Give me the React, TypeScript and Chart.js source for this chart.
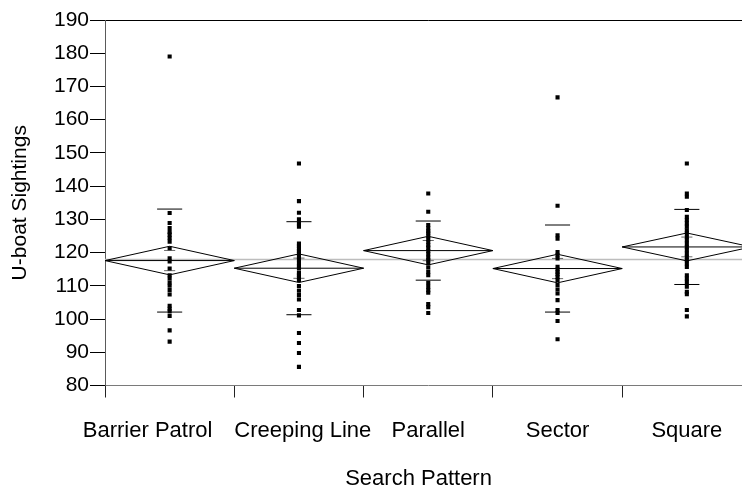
import React, { useEffect, useRef } from 'react';
import { Chart, registerables } from 'chart.js';

Chart.register(...registerables);

// ---------- data ----------
const categories = ['Barrier Patrol', 'Creeping Line', 'Parallel', 'Sector', 'Square'];

const barrierPatrol = [179, 131.9, 128.9, 127.4, 126.2, 125.4, 124.4, 123.3, 121.3, 118.3, 117.3, 115.2, 113.2, 112.2, 111.0, 110.0, 108.7, 107.4, 104.0, 103.1, 102.3, 100.9, 96.6, 93.2];
const creepingLine = [146.8, 135.5, 132.0, 130.0, 128.8, 127.8, 122.7, 121.9, 121.2, 120.5, 119.7, 118.7, 117.7, 116.7, 115.9, 115.2, 113.9, 113.2, 112.5, 111.7, 109.9, 108.5, 107.2, 105.9, 102.7, 101.1, 95.8, 92.8, 89.8, 85.6];
const parallel = [137.8, 132.3, 128.3, 127.3, 126.4, 125.8, 124.9, 124.0, 123.2, 122.2, 121.5, 120.5, 119.5, 118.5, 117.7, 116.7, 115.5, 114.2, 113.2, 110.9, 109.7, 108.7, 107.9, 104.5, 103.6, 101.8];
const sector = [166.7, 134.1, 125.2, 124.2, 120.2, 119.2, 118.2, 115.7, 114.9, 114.2, 113.5, 112.7, 111.7, 110.2, 108.9, 107.7, 105.7, 102.7, 101.8, 99.4, 93.9];
const square = [146.8, 137.8, 136.8, 132.8, 130.8, 129.8, 128.8, 127.8, 126.7, 125.8, 124.7, 123.7, 122.7, 121.7, 120.7, 119.7, 118.7, 117.7, 116.7, 115.7, 113.2, 112.2, 111.2, 109.7, 108.2, 107.5, 102.7, 100.8];
const seriesValues = [barrierPatrol, creepingLine, parallel, sector, square];

const means = [117.6, 115.3, 120.6, 115.2, 121.7];
const ciHalfWidths = [4.3, 4.3, 4.3, 4.3, 4.2];
const stdDevs = [15.5, 14.0, 8.9, 13.1, 11.3];
const grandMean = 117.9;

const yTickValues = [80, 90, 100, 110, 120, 130, 140, 150, 160, 170, 180, 190];
const xTitle = 'Search Pattern';
const yTitle = 'U-boat Sightings';

// ---------- styling constants ----------
const FONT = '"Liberation Sans", Arial, Helvetica, sans-serif';
const SD_HALF = 0.097;
const OVERLAP_HALF = 0.043;

type P = { x: number; y: number | null };

function buildDiamonds(): P[] {
  const out: P[] = [];
  means.forEach((m, i) => {
    const c = ciHalfWidths[i];
    out.push({ x: i, y: m }, { x: i + 0.5, y: m + c }, { x: i + 1, y: m }, { x: i + 0.5, y: m - c }, { x: i, y: m }, { x: i + 1, y: null });
  });
  return out;
}
function buildMeanLines(): P[] {
  const out: P[] = [];
  means.forEach((m, i) => {
    out.push({ x: i, y: m }, { x: i + 1, y: m }, { x: i + 1, y: null });
  });
  return out;
}
function buildSegments(vals: (i: number) => number[], half: number): P[] {
  const out: P[] = [];
  means.forEach((_, i) => {
    vals(i).forEach((v) => {
      out.push({ x: i + 0.5 - half, y: v }, { x: i + 0.5 + half, y: v }, { x: i + 0.5 + half, y: null });
    });
  });
  return out;
}
function buildPoints(): P[] {
  const out: P[] = [];
  seriesValues.forEach((arr, i) => arr.forEach((v) => out.push({ x: i + 0.5, y: v })));
  return out;
}

const xLabelPlugin = {
  id: 'xCategoryLabels',
  afterDraw(chart: any) {
    const { ctx, chartArea } = chart;
    const xs = chart.scales.x;
    ctx.save();
    ctx.font = `22px ${FONT}`;
    ctx.fillStyle = '#000';
    ctx.textBaseline = 'middle';
    ctx.textAlign = 'left';
    const items = categories.map((c, i) => {
      const w = ctx.measureText(c).width;
      return { c, w, cx: xs.getPixelForValue(i + 0.5) };
    });
    const gap = 22;
    for (let i = items.length - 2; i >= 0; i--) {
      const a = items[i];
      const b = items[i + 1];
      const overlap = a.cx + a.w / 2 + gap - (b.cx - b.w / 2);
      if (overlap > 0) {
        b.cx += overlap * 0.15;
        a.cx -= overlap * 0.85;
      }
    }
    const y = chartArea.bottom + 45;
    items.forEach((it) => ctx.fillText(it.c, it.cx - it.w / 2, y));

    // axis title
    ctx.font = `22px ${FONT}`;
    ctx.textAlign = 'center';
    const tx = chartArea.left + (chartArea.right - chartArea.left) * 0.485;
    ctx.fillText(xTitle, tx, chartArea.bottom + 93);
    ctx.restore();
  },
};

export default function App() {
  const ref = useRef<HTMLCanvasElement | null>(null);

  useEffect(() => {
    if (!ref.current) return;
    const chart = new Chart(ref.current, {
      type: 'scatter',
      data: {
        datasets: [
          {
            label: 'points',
            data: buildPoints(),
            pointStyle: 'rect',
            pointRadius: 2.9,
            pointBorderWidth: 0,
            backgroundColor: '#000',
            borderColor: '#000',
            showLine: false,
          } as any,
          {
            label: 'sd',
            data: buildSegments((i) => [means[i] + stdDevs[i], means[i] - stdDevs[i]], SD_HALF),
            showLine: true,
            spanGaps: false,
            borderColor: '#000',
            borderWidth: 1,
            pointRadius: 0,
          },
          {
            label: 'overlap',
            data: buildSegments((i) => [means[i] + ciHalfWidths[i] / Math.SQRT2, means[i] - ciHalfWidths[i] / Math.SQRT2], OVERLAP_HALF),
            showLine: true,
            spanGaps: false,
            borderColor: '#6a6a6a',
            borderWidth: 1,
            pointRadius: 0,
          },
          {
            label: 'mean',
            data: buildMeanLines(),
            showLine: true,
            spanGaps: false,
            borderColor: '#000',
            borderWidth: 1,
            pointRadius: 0,
          },
          {
            label: 'diamond',
            data: buildDiamonds(),
            showLine: true,
            spanGaps: false,
            borderColor: '#000',
            borderWidth: 1,
            pointRadius: 0,
          },
          {
            label: 'grand mean',
            data: [{ x: 0, y: grandMean }, { x: categories.length, y: grandMean }],
            showLine: true,
            borderColor: '#bdbdbd',
            borderWidth: 1.5,
            pointRadius: 0,
          },
        ],
      },
      options: {
        animation: false,
        responsive: true,
        maintainAspectRatio: false,
        layout: { padding: { left: 0, top: 20, right: 8.5, bottom: 0 } },
        plugins: { legend: { display: false }, tooltip: { enabled: false } },
        scales: {
          x: {
            type: 'linear',
            min: 0,
            max: categories.length,
            afterBuildTicks: (scale: any) => {
              scale.ticks = categories.map((_, i) => ({ value: i })).concat([{ value: categories.length }]);
            },
            afterFit: (scale: any) => {
              scale.height = 105.5;
            },
            ticks: { display: false },
            grid: { drawOnChartArea: false, drawTicks: true, tickLength: 12, color: '#222', lineWidth: 1 },
            border: { display: true, color: '#7a7a7a', width: 1 },
            title: { display: false },
          },
          y: {
            type: 'linear',
            min: 80,
            max: 190,
            afterBuildTicks: (scale: any) => {
              scale.ticks = yTickValues.map((v) => ({ value: v }));
            },
            afterFit: (scale: any) => {
              scale.width = 105;
            },
            ticks: {
              color: '#000',
              font: { family: FONT, size: 21 },
              padding: 1,
            },
            grid: {
              drawOnChartArea: true,
              drawTicks: true,
              tickLength: 15,
              tickColor: '#000',
              color: (c: any) => (c.tick && c.tick.value === 190 ? '#000' : 'rgba(0,0,0,0)'),
              lineWidth: 1,
            },
            border: { display: true, color: '#5a5a5a', width: 1 },
            title: {
              display: true,
              text: yTitle,
              color: '#000',
              font: { family: FONT, size: 21, lineHeight: 1.2 },
              padding: { top: 8, bottom: 0 },
            },
          },
        },
      },
      plugins: [xLabelPlugin],
    });
    return () => chart.destroy();
  }, []);

  return (
    <div style={{ position: 'absolute', left: 0, top: 0, width: 742, height: 491, overflow: 'hidden', background: '#fff' }}>
      <div style={{ position: 'relative', width: 760, height: 491 }}>
        <canvas ref={ref} />
      </div>
    </div>
  );
}
